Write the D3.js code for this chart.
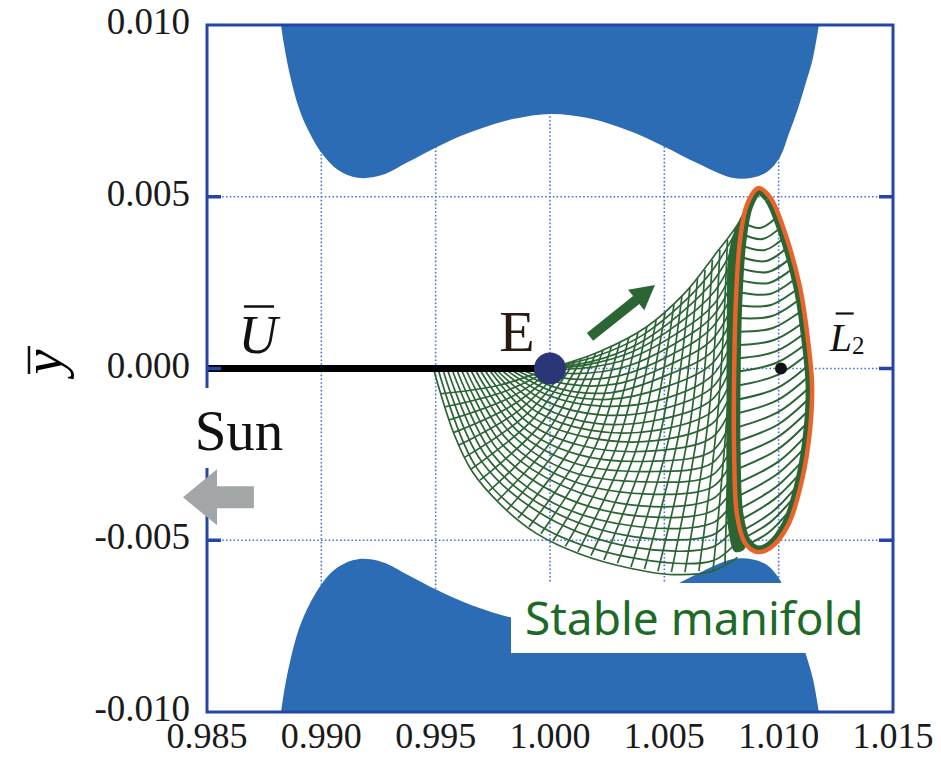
<!DOCTYPE html>
<html>
<head>
<meta charset="utf-8">
<script src="https://cdn.jsdelivr.net/npm/d3@7"></script>
<style>
  body { margin: 0; background: #fff; }
  svg { display: block; }
</style>
</head>
<body>
<svg id="chart" width="941" height="758"></svg>
<script>
// axis ticks
const xTicks = [0.985, 0.990, 0.995, 1.000, 1.005, 1.010, 1.015];
const yTicks = [-0.010, -0.005, 0.000, 0.005, 0.010];

// upper forbidden region boundary (the lower one is its mirror image)
const regionX = [0.98824, 0.98835, 0.98863, 0.98902, 0.98950, 0.99007, 0.99073, 0.99160, 0.99265, 0.99379,
    0.99506, 0.99646, 0.99838, 1.00004, 1.00166, 1.00337, 1.00503, 1.00643, 1.00796, 1.00883,
    1.00949, 1.01006, 1.01045, 1.01085, 1.01120, 1.01150, 1.01176];
const regionY = [0.0100, 0.0095, 0.00854, 0.00758, 0.00684, 0.00622, 0.00578, 0.00555, 0.00563, 0.00601,
    0.00645, 0.00686, 0.00726, 0.00741, 0.00729, 0.00694, 0.00645, 0.00598, 0.00555, 0.00555,
    0.00572, 0.00616, 0.00684, 0.00758, 0.00834, 0.00904, 0.0100];

// Lyapunov orbit around L2
const orbitPts = [
    [1.00910, 0.00525], [1.00962, 0.00499], [1.01019, 0.00412], [1.01093, 0.00237], [1.01128, 0.00083],
    [1.01146, -0.00048], [1.01137, -0.00179], [1.01102, -0.00325], [1.01041, -0.00456], [1.00962, -0.00523],
    [1.00905, -0.00534], [1.00853, -0.00508], [1.00818, -0.00427], [1.00805, -0.00237], [1.00805, -0.00034],
    [1.00813, 0.00199], [1.00831, 0.00374], [1.00861, 0.00476]
];

// stable manifold: trajectories sweeping round the bowl (outer edge first)
const bowlCurves = [
    [[0.9949, 0], [0.9958, -0.0019], [0.9966, -0.0030], [0.9979, -0.0040], [0.9994, -0.0048], [1.0013, -0.0054], [1.0034, -0.0058], [1.0054, -0.0060], [1.0071, -0.0059], [1.0082, -0.0055]],
    [[0.9951, 0], [0.9968, -0.0029], [0.9996, -0.0046], [1.0035, -0.0055], [1.0071, -0.0056], [1.0081, -0.0051]],
    [[0.9953, 0], [0.9970, -0.0027], [0.9998, -0.0043], [1.0036, -0.0052], [1.0071, -0.0052], [1.0080, -0.0047]],
    [[0.9955, 0], [0.99725, -0.0026], [0.99995, -0.0041], [1.0037, -0.0049], [1.0071, -0.00485], [1.0080, -0.0043]],
    [[0.9957, 0], [0.9975, -0.0025], [1.0001, -0.0039], [1.0038, -0.0046], [1.0071, -0.0045], [1.0080, -0.0039]],
    [[0.9959, 0], [0.9977, -0.00235], [1.0003, -0.00365], [1.0039, -0.0043], [1.0071, -0.00415], [1.0080, -0.0035]],
    [[0.9961, 0], [0.9979, -0.0022], [1.0005, -0.0034], [1.0040, -0.0040], [1.0071, -0.0038], [1.0080, -0.0031]],
    [[0.9963, 0], [0.9981, -0.00205], [1.0007, -0.0032], [1.0041, -0.00365], [1.0071, -0.00345], [1.0080, -0.00265]],
    [[0.9965, 0], [0.9983, -0.0019], [1.0009, -0.0030], [1.0042, -0.0033], [1.0071, -0.0031], [1.0080, -0.0022]],
    [[0.9967, 0], [0.99855, -0.0018], [1.00105, -0.00275], [1.0043, -0.0030], [1.0071, -0.00275], [1.0080, -0.0018]],
    [[0.9969, 0], [0.9988, -0.0017], [1.0012, -0.0025], [1.0044, -0.0027], [1.0071, -0.0024], [1.0080, -0.0014]],
    [[0.9971, 0], [0.9990, -0.00155], [1.0014, -0.00225], [1.0045, -0.0024], [1.0071, -0.0020], [1.0080, -0.0010]],
    [[0.9973, 0], [0.9992, -0.0014], [1.0016, -0.0020], [1.0046, -0.0021], [1.0071, -0.0016], [1.0080, -0.0006]],
    [[0.99745, 0], [0.9994, -0.00125], [1.0018, -0.0018], [1.00465, -0.0018], [1.0071, -0.00125], [1.0080, -0.0002]],
    [[0.9976, 0], [0.9996, -0.0011], [1.0020, -0.0016], [1.0047, -0.0015], [1.0071, -0.0009], [1.0080, 0.0002]],
    [[0.9978, 0], [0.9998, -0.00095], [1.0022, -0.00135], [1.0048, -0.0012], [1.0071, -0.00055], [1.00805, 0.0006]],
    [[0.9980, 0], [1.0000, -0.0008], [1.0024, -0.0011], [1.0049, -0.0009], [1.0071, -0.0002], [1.0081, 0.0010]],
    [[0.9982, 0], [1.00025, -0.0007], [1.00255, -0.0009], [1.0050, -0.00055], [1.0071, 0.00015], [1.00815, 0.0014]],
    [[0.9984, 0], [1.0005, -0.0006], [1.0027, -0.0007], [1.0051, -0.0002], [1.0071, 0.0005], [1.0082, 0.0018]],
    [[0.9986, 0], [1.0007, -0.00045], [1.0029, -0.00045], [1.0052, 0.0001], [1.0071, 0.00085], [1.00825, 0.0022]],
    [[0.9988, 0], [1.0009, -0.0003], [1.0031, -0.0002], [1.0053, 0.0004], [1.0071, 0.0012], [1.0083, 0.0026]],
    [[0.9990, 0], [1.0011, -0.00015], [1.0033, 0.00005], [1.0054, 0.0007], [1.00715, 0.00155], [1.00835, 0.00305]],
    [[0.9992, 0], [1.0013, 0.0000], [1.0035, 0.0003], [1.0055, 0.0010], [1.0072, 0.0019], [1.0084, 0.0035]],
    [[0.9994, 0], [1.00155, 0.0001], [1.00365, 0.0005], [1.0056, 0.0013], [1.0072, 0.00225], [1.0085, 0.0039]],
    [[0.9996, 0], [1.0018, 0.0002], [1.0038, 0.0007], [1.0057, 0.0016], [1.0072, 0.0026], [1.0086, 0.0043]],
    [[0.9998, 0], [1.0020, 0.00035], [1.0040, 0.00095], [1.0058, 0.0019], [1.0072, 0.00295], [1.0087, 0.0047]],
    [[1.0000, 0], [1.0022, 0.0005], [1.0042, 0.0012], [1.0059, 0.0022], [1.0072, 0.0033], [1.0083, 0.0043], [1.0088, 0.0051]]
];

// stable manifold: trajectories crossing the bowl (top edge -> outer edge)
const crossCurves = [
    [[1.00013, 0.00004], [0.99781, -0.00048], [0.99519, -0.00074]],
    [[1.00024, 0.00005], [0.99801, -0.00067], [0.99538, -0.00112]],
    [[1.00035, 0.00007], [0.99821, -0.00086], [0.99558, -0.00150]],
    [[1.00050, 0.00010], [0.99840, -0.00105], [0.99580, -0.00186]],
    [[1.00066, 0.00013], [0.99860, -0.00124], [0.99602, -0.00223]],
    [[1.00087, 0.00017], [0.99886, -0.00140], [0.99628, -0.00258]],
    [[1.00109, 0.00022], [0.99913, -0.00156], [0.99655, -0.00293]],
    [[1.00137, 0.00027], [0.99950, -0.00170], [0.99694, -0.00325]],
    [[1.00166, 0.00033], [0.99987, -0.00185], [0.99733, -0.00357]],
    [[1.00199, 0.00043], [1.00024, -0.00195], [0.99772, -0.00384]],
    [[1.00232, 0.00054], [1.00061, -0.00205], [0.99812, -0.00412]],
    [[1.00269, 0.00065], [1.00107, -0.00214], [0.99860, -0.00436]],
    [[1.00306, 0.00077], [1.00153, -0.00223], [0.99908, -0.00461]],
    [[1.00345, 0.00091], [1.00199, -0.00226], [0.99960, -0.00481]],
    [[1.00385, 0.00106], [1.00245, -0.00229], [1.00013, -0.00502]],
    [[1.00424, 0.00123], [1.00291, -0.00227], [1.00067, -0.00518]],
    [[1.00464, 0.00141], [1.00337, -0.00226], [1.00122, -0.00534]],
    [[1.00503, 0.00163], [1.00385, -0.00218], [1.00179, -0.00545]],
    [[1.00542, 0.00185], [1.00433, -0.00211], [1.00236, -0.00557]],
    [[1.00577, 0.00211], [1.00479, -0.00200], [1.00295, -0.00567]],
    [[1.00612, 0.00237], [1.00525, -0.00188], [1.00354, -0.00578]],
    [[1.00645, 0.00262], [1.00568, -0.00176], [1.00413, -0.00584]],
    [[1.00678, 0.00287], [1.00612, -0.00164], [1.00472, -0.00590]],
    [[1.00710, 0.00316], [1.00653, -0.00148], [1.00531, -0.00592]],
    [[1.00743, 0.00345], [1.00695, -0.00132], [1.00590, -0.00593]],
    [[1.00776, 0.00375], [1.00736, -0.00115], [1.00651, -0.00590]],
    [[1.00809, 0.00406], [1.00778, -0.00098], [1.00713, -0.00587]],
    [[1.00835, 0.00440], [1.00790, -0.00080], [1.00765, -0.00570]]
];

// dense strip where the trajectories pile up next to the orbit
const bandPts = [
    [1.00875, 0.00496], [1.00840, 0.00447], [1.00800, 0.00389], [1.00778, 0.00316], [1.00774, 0.00199],
    [1.00772, -0.00092], [1.00772, -0.00325], [1.00780, -0.00470], [1.00809, -0.00534], [1.00853, -0.00523],
    [1.00818, -0.00426], [1.00805, -0.00237], [1.00805, -0.00033], [1.00813, 0.00199], [1.00831, 0.00374],
    [1.00861, 0.00476]
];

// arcs seen through the orbit
const innerArcs = [
    [[1.00840, 0.00426], [1.00918, 0.00409], [1.00988, 0.00438]],
    [[1.00835, 0.00393], [1.00929, 0.00377], [1.01012, 0.00413]],
    [[1.00831, 0.00360], [1.00940, 0.00345], [1.01036, 0.00389]],
    [[1.00829, 0.00326], [1.00946, 0.00313], [1.01051, 0.00360]],
    [[1.00827, 0.00293], [1.00953, 0.00281], [1.01067, 0.00330]],
    [[1.00824, 0.00258], [1.00957, 0.00249], [1.01080, 0.00301]],
    [[1.00822, 0.00223], [1.00962, 0.00217], [1.01093, 0.00272]],
    [[1.00820, 0.00185], [1.00966, 0.00185], [1.01104, 0.00243]],
    [[1.00818, 0.00147], [1.00971, 0.00153], [1.01115, 0.00214]],
    [[1.00815, 0.00107], [1.00975, 0.00118], [1.01124, 0.00180]],
    [[1.00813, 0.00068], [1.00980, 0.00083], [1.01133, 0.00147]],
    [[1.00811, 0.00029], [1.00984, 0.00049], [1.01137, 0.00115]],
    [[1.00809, -0.00010], [1.00988, 0.00016], [1.01141, 0.00083]],
    [[1.00809, -0.00051], [1.00990, -0.00020], [1.01143, 0.00051]],
    [[1.00809, -0.00092], [1.00993, -0.00057], [1.01146, 0.00019]],
    [[1.00809, -0.00132], [1.00995, -0.00092], [1.01146, -0.00014]],
    [[1.00809, -0.00173], [1.00997, -0.00127], [1.01146, -0.00048]],
    [[1.00809, -0.00214], [1.00997, -0.00163], [1.01143, -0.00081]],
    [[1.00809, -0.00255], [1.00997, -0.00199], [1.01141, -0.00115]],
    [[1.00811, -0.00295], [1.00997, -0.00235], [1.01137, -0.00150]],
    [[1.00813, -0.00336], [1.00997, -0.00272], [1.01133, -0.00185]],
    [[1.00815, -0.00374], [1.00992, -0.00308], [1.01124, -0.00223]],
    [[1.00818, -0.00412], [1.00988, -0.00345], [1.01115, -0.00261]],
    [[1.00824, -0.00444], [1.00980, -0.00381], [1.01100, -0.00300]],
    [[1.00831, -0.00476], [1.00971, -0.00418], [1.01085, -0.00339]],
    [[1.00844, -0.00495], [1.00962, -0.00448], [1.01067, -0.00375]],
    [[1.00857, -0.00514], [1.00953, -0.00479], [1.01050, -0.00412]]
];

// points of interest
const earthPos = [1.000, 0.000];
const l2Pos = [1.0101, 0.000];
const flowArrow = [[1.00175, 0.00092], [1.00459, 0.00243]]; // tail, tip
const sunArrow = [[0.98705, -0.00375], [0.98395, -0.00375]]; // tail, tip

// colours
const frameBlue = '#2446a6';
const gridBlue = '#4a73d6';
const regionBlue = '#2b6cb4';
const meshGreen = '#2b6534';
const textGreen = '#1d6a26';
const orbitOrange = '#e9642a';

const svg = d3.select('#chart');
const width = 941, height = 758;
const margin = { top: 25, right: 48, bottom: 46, left: 207 };

const x = d3.scaleLinear().domain([0.985, 1.015]).range([margin.left, width - margin.right]);
const y = d3.scaleLinear().domain([-0.010, 0.010]).range([height - margin.bottom, margin.top]);

const defs = svg.append('defs');
defs.append('clipPath').attr('id', 'plot-clip')
    .append('rect')
    .attr('x', x(0.985)).attr('y', y(0.010))
    .attr('width', x(1.015) - x(0.985)).attr('height', y(-0.010) - y(0.010));

const line = d3.line().x((d) => x(d[0])).y((d) => y(d[1]));
const smooth = d3.line().x((d) => x(d[0])).y((d) => y(d[1])).curve(d3.curveCatmullRom.alpha(0.5));
const orbitPath = d3.line().x((d) => x(d[0])).y((d) => y(d[1])).curve(d3.curveCatmullRomClosed)(orbitPts);

defs.append('clipPath').attr('id', 'orbit-clip')
    .append('path').attr('d', orbitPath);

const plot = svg.append('g').attr('clip-path', 'url(#plot-clip)');

// Grid (dotted)
const grid = plot.append('g')
    .attr('stroke', gridBlue)
    .attr('stroke-width', 1.6)
    .attr('stroke-dasharray', '1.6,2.2');
grid.selectAll('.gx').data(xTicks.slice(1, -1)).join('line')
    .attr('x1', (d) => x(d)).attr('x2', (d) => x(d))
    .attr('y1', y(0.010)).attr('y2', y(-0.010));
grid.selectAll('.gy').data(yTicks.slice(1, -1)).join('line')
    .attr('x1', x(0.985)).attr('x2', x(1.015))
    .attr('y1', (d) => y(d)).attr('y2', (d) => y(d));

// Forbidden regions
const regionPts = regionX.map((v, i) => [v, regionY[i]]);
plot.append('path')
    .datum(regionPts)
    .attr('fill', regionBlue)
    .attr('d', d3.area().x((d) => x(d[0])).y0(y(0.0102)).y1((d) => y(d[1])).curve(d3.curveCatmullRom));
plot.append('path')
    .datum(regionPts)
    .attr('fill', regionBlue)
    .attr('d', d3.area().x((d) => x(d[0])).y0(y(-0.0102)).y1((d) => y(-d[1])).curve(d3.curveCatmullRom));

// Stable manifold mesh
const mesh = plot.append('g')
    .attr('fill', 'none')
    .attr('stroke', meshGreen)
    .attr('stroke-width', 1.7);
mesh.selectAll('.bowl').data(bowlCurves).join('path').attr('d', smooth);
mesh.selectAll('.cross').data(crossCurves).join('path').attr('d', smooth);
plot.append('path')
    .datum(bandPts)
    .attr('fill', meshGreen)
    .attr('d', d3.line().x((d) => x(d[0])).y((d) => y(d[1])).curve(d3.curveCatmullRomClosed));

// inside the orbit
const inner = plot.append('g').attr('clip-path', 'url(#orbit-clip)');
inner.selectAll('.arc').data(innerArcs).join('path')
    .attr('fill', 'none').attr('stroke', meshGreen).attr('stroke-width', 2)
    .attr('d', smooth);
inner.append('path').attr('d', orbitPath)
    .attr('fill', 'none').attr('stroke', meshGreen).attr('stroke-width', 13);

// Lyapunov orbit
plot.append('path').attr('d', orbitPath)
    .attr('fill', 'none').attr('stroke', orbitOrange).attr('stroke-width', 4.5);

// Sun-Earth line and points
plot.append('path')
    .datum([[0.985, 0], earthPos])
    .attr('d', line)
    .attr('stroke', '#000').attr('stroke-width', 7);
plot.append('circle')
    .attr('cx', x(earthPos[0])).attr('cy', y(earthPos[1])).attr('r', 16)
    .attr('fill', '#2b3676');
plot.append('circle')
    .attr('cx', x(l2Pos[0])).attr('cy', y(l2Pos[1])).attr('r', 6)
    .attr('fill', '#111');

// Frame and inward ticks
svg.append('rect')
    .attr('x', x(0.985)).attr('y', y(0.010))
    .attr('width', x(1.015) - x(0.985)).attr('height', y(-0.010) - y(0.010))
    .attr('fill', 'none').attr('stroke', frameBlue).attr('stroke-width', 3);
const ticks = svg.append('g').attr('stroke', frameBlue).attr('stroke-width', 3.5);
ticks.selectAll('.tl').data(yTicks.slice(1, -1)).join('line')
    .attr('x1', x(0.985)).attr('x2', x(0.985) + 14)
    .attr('y1', (d) => y(d)).attr('y2', (d) => y(d));
ticks.selectAll('.tr').data(yTicks.slice(1, -1)).join('line')
    .attr('x1', x(1.015) - 14).attr('x2', x(1.015))
    .attr('y1', (d) => y(d)).attr('y2', (d) => y(d));

// Tick labels
const serif = '"Liberation Serif", "DejaVu Serif", serif';
svg.append('g').selectAll('text').data(yTicks).join('text')
    .attr('x', x(0.985) - 17)
    .attr('y', (d) => y(d) + 9)
    .attr('text-anchor', 'end')
    .attr('font-family', serif).attr('font-size', 37).attr('fill', '#1a1a1a')
    .text((d) => (d < 0 ? '-' : '') + Math.abs(d).toFixed(3));
svg.append('g').selectAll('text').data(xTicks).join('text')
    .attr('x', (d) => x(d))
    .attr('y', y(-0.010) + 36)
    .attr('text-anchor', 'middle')
    .attr('font-family', serif).attr('font-size', 36).attr('fill', '#1a1a1a')
    .text((d) => d.toFixed(3));

// Axis title: y with a bar
const yTitle = svg.append('g').attr('transform', 'translate(62,362) rotate(-90)');
yTitle.append('text')
    .attr('text-anchor', 'middle')
    .attr('font-family', serif).attr('font-style', 'italic').attr('font-size', 56)
    .text('y');
yTitle.append('line')
    .attr('x1', -12).attr('x2', 16).attr('y1', -33).attr('y2', -33)
    .attr('stroke', '#111').attr('stroke-width', 2.5);

// U-bar label
const uX = x(0.98723), uY = y(0) - 16;
svg.append('text')
    .attr('x', uX).attr('y', uY)
    .attr('text-anchor', 'middle')
    .attr('font-family', serif).attr('font-style', 'italic').attr('font-size', 54).attr('fill', '#111')
    .text('U');
svg.append('line')
    .attr('x1', uX - 14).attr('x2', uX + 16).attr('y1', uY - 46).attr('y2', uY - 46)
    .attr('stroke', '#111').attr('stroke-width', 2.5);

// E label
svg.append('text')
    .attr('x', x(earthPos[0]) - 33).attr('y', y(0) - 18)
    .attr('text-anchor', 'middle')
    .attr('font-family', serif).attr('font-size', 58).attr('fill', '#2a1a12')
    .text('E');

// L2-bar label
const lX = x(1.01223), lY = y(0) - 18;
const l2 = svg.append('text')
    .attr('x', lX).attr('y', lY)
    .attr('font-family', serif).attr('font-size', 40).attr('fill', '#111');
l2.append('tspan').attr('font-style', 'italic').text('L');
l2.append('tspan').attr('font-size', 25).attr('dy', 3).text('2');
svg.append('line')
    .attr('x1', lX + 6).attr('x2', lX + 24).attr('y1', lY - 37).attr('y2', lY - 37)
    .attr('stroke', '#111').attr('stroke-width', 2.2);

// flow direction arrow (drawn in screen space from the scaled end points)
const arrowShape = (tail, tip, shaftHalf, headLen, headHalf) => {
    const dx = tip[0] - tail[0], dy = tip[1] - tail[1];
    const len = Math.hypot(dx, dy);
    const ux = dx / len, uy = dy / len;
    const nx = -uy, ny = ux;
    const hx = tip[0] - ux * headLen, hy = tip[1] - uy * headLen;
    return [
        [tail[0] + nx * shaftHalf, tail[1] + ny * shaftHalf],
        [hx + nx * shaftHalf, hy + ny * shaftHalf],
        [hx + nx * headHalf, hy + ny * headHalf],
        tip,
        [hx - nx * headHalf, hy - ny * headHalf],
        [hx - nx * shaftHalf, hy - ny * shaftHalf],
        [tail[0] - nx * shaftHalf, tail[1] - ny * shaftHalf]
    ];
};
const toPx = (p) => [x(p[0]), y(p[1])];
svg.append('polygon')
    .attr('points', arrowShape(toPx(flowArrow[0]), toPx(flowArrow[1]), 5, 24, 13).join(' '))
    .attr('fill', meshGreen);

// Sun label with its white backing
svg.append('rect')
    .attr('x', 186).attr('y', 388).attr('width', 104).attr('height', 80)
    .attr('fill', '#fff');
svg.append('text')
    .attr('x', 239).attr('y', 450)
    .attr('text-anchor', 'middle')
    .attr('font-family', serif).attr('font-size', 57).attr('fill', '#111')
    .text('Sun');
svg.append('polygon')
    .attr('points', arrowShape(toPx(sunArrow[0]), toPx(sunArrow[1]), 11, 34, 28).join(' '))
    .attr('fill', '#a3a6a6');

// Stable manifold label
svg.append('rect')
    .attr('x', 511).attr('y', 583).attr('width', 372).attr('height', 70)
    .attr('fill', '#fff');
svg.append('text')
    .attr('x', 525).attr('y', 635)
    .attr('font-family', '"Noto Sans", sans-serif').attr('font-size', 46).attr('fill', textGreen)
    .text('Stable manifold');
</script>
</body>
</html>
